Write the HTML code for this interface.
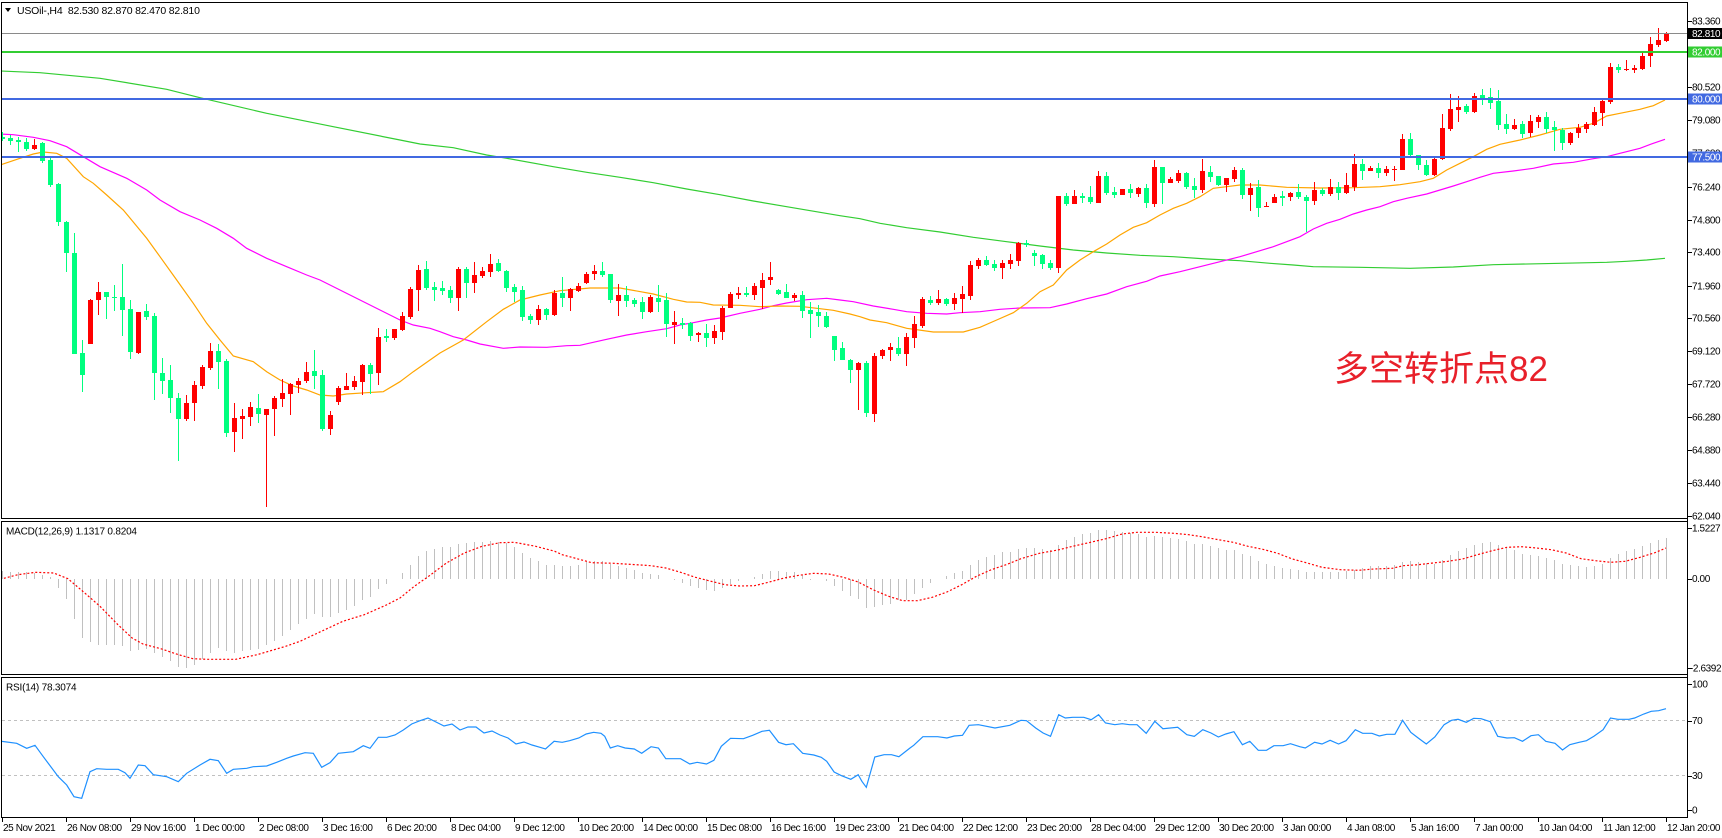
<!DOCTYPE html>
<html><head><meta charset="utf-8">
<style>
html,body{margin:0;padding:0;background:#fff;width:1722px;height:838px;overflow:hidden}
svg{display:block}
text{font-family:"Liberation Sans","Noto Sans CJK SC",sans-serif;}
.ax{font-size:10px;letter-spacing:-0.4px;fill:#000}
</style></head><body>
<svg id="c" width="1722" height="838" viewBox="0 0 1722 838" xmlns="http://www.w3.org/2000/svg">
<rect x="0" y="0" width="1722" height="838" fill="#fff"/>
<defs>
<clipPath id="cm"><rect x="2" y="3" width="1685" height="515"/></clipPath>
<clipPath id="cmacd"><rect x="2" y="522" width="1685" height="152"/></clipPath>
<clipPath id="crsi"><rect x="2" y="678" width="1685" height="139"/></clipPath>
</defs>
<g id="ma" clip-path="url(#cm)"></g>
<g id="cd" clip-path="url(#cm)" shape-rendering="crispEdges"></g>
<g shape-rendering="crispEdges">
<rect x="2" y="33" width="1685" height="1" fill="#8a8a8a"/>
<rect x="2" y="51" width="1685" height="2" fill="#32cd32"/>
<rect x="2" y="98" width="1685" height="2" fill="#4169e1"/>
<rect x="2" y="156" width="1685" height="2" fill="#4169e1"/>
</g>
<g id="macd" clip-path="url(#cmacd)"></g>
<g id="rsi" clip-path="url(#crsi)"></g>
<g stroke="#000" fill="none" shape-rendering="crispEdges">
<rect x="1.5" y="2.5" width="1686" height="516"/>
<rect x="1.5" y="521.5" width="1686" height="153"/>
<rect x="1.5" y="677.5" width="1686" height="140"/>
<line x1="1687.5" y1="2" x2="1687.5" y2="818"/>
</g>
<g id="axis"></g>
<polygon points="5,8 11,8 8,12" fill="#000"/>
<text x="17" y="14" style="font-size:10.5px;letter-spacing:-0.2px" fill="#000">USOil-,H4&#160;&#160;82.530 82.870 82.470 82.810</text>
<text x="6" y="534.5" class="ax" style="letter-spacing:-0.2px">MACD(12,26,9) 1.1317 0.8204</text>
<text x="6" y="690.5" class="ax" style="letter-spacing:-0.2px">RSI(14) 78.3074</text>
<text x="1334" y="381" style="font-size:35px" fill="#e8202a">多空转折点82</text>
</svg>
<script>
(function(){
var NS='http://www.w3.org/2000/svg';
function el(tag,a,p){var e=document.createElementNS(NS,tag);for(var k in a)e.setAttribute(k,a[k]);p.appendChild(e);return e;}
var gMA=document.getElementById('ma'),gCD=document.getElementById('cd'),gM=document.getElementById('macd'),gR=document.getElementById('rsi'),gA=document.getElementById('axis');
function pts(a){var s=[];for(var i=0;i<a.length;i+=2)s.push(a[i]+','+a[i+1]);return s.join(' ');}

// Moving averages
var green=[0,71,40,72.7,100,78.3,166.7,89.3,200,97.7,266.7,113.3,333.3,126.7,400,140,420,144,453.3,147.7,486.7,155,506.7,158.3,553.3,166.7,586.7,172.3,620,177.3,653.3,182.7,686.7,189,720,194.7,753.3,201,786.7,206.7,820,212.3,840,215.7,860,218.7,880,223.3,906.7,227.7,940,232,973.3,237.3,1006.7,241.7,1040,246,1073.3,250,1106.7,253,1140,255.3,1173.3,256.7,1206.7,259,1240,260.7,1270,263.3,1293.3,265,1313.3,266.7,1360,267.3,1410,268.3,1453.3,267,1493.3,264.7,1560,263.3,1606.7,262.3,1626.7,261.3,1646.7,260,1665,258.3];
var mag=[0,134,13.3,134.7,33.3,137.3,50,140.7,66.7,146.7,83.3,156.7,100,166.7,126.7,178.3,146.7,190,160,200,180,211.7,200,220,216.7,228.3,233.3,238.3,246.7,248.3,266.7,258.3,286.7,266.7,306.7,275,320,280,340,290,360,300,380,310,400,320,413.3,325,430,328.3,440,331.7,453.3,336.7,466.7,340,480,344,503.3,348.3,520,347,546.7,347.3,566.7,345.7,580,345.3,593.3,342.3,606.7,339.3,626.7,335,646.7,331.7,666.7,328.7,680,325,693.3,322.7,706.7,320,720,318,740,313.3,760,309.3,773.3,305.7,786.7,303,806.7,299.7,826.7,298.3,840,300,853.3,301.7,873.3,306,893.3,309.3,906.7,311.7,926.7,313.3,946.7,314,960,312.7,980,311.7,1000,309.3,1020,308,1050,307.7,1066.7,304,1086.7,298.7,1106.7,294,1126.7,286.7,1146.7,281.3,1160,276,1180,271.7,1200,266.7,1220,261.7,1240,256.7,1256.7,251.7,1273.3,246.7,1286.7,241.7,1300,236.7,1313.3,229,1326.7,223.3,1340,219.3,1353.3,214,1366.7,210,1380,206.7,1393.3,201.7,1406.7,198.3,1426.7,194,1440,190,1453.3,186,1466.7,181.7,1480,177.3,1493.3,173.3,1513.3,171,1533.3,168.3,1553.3,164,1573.3,162.3,1593.3,158.7,1606.7,156.7,1620,153.3,1640,148.3,1653.3,143.3,1665,139.3];
var ora=[0,165,20,158.3,33.3,154,43.3,152,56.7,153.3,66.7,158.3,83.3,176.7,93.3,183.3,106.7,195,123.3,210,146.7,238.3,160,256.7,176.7,280,193.3,303.3,206.7,323.3,220,340,233.3,356,253.3,361.7,266.7,371.7,280,380,293.3,386,306.7,390,320,395,333.3,396,346.7,394,366.7,392.7,383.3,391.7,400,381.7,413.3,371.7,430,360,440,353,463.3,340,486.7,321.7,503.3,309.3,520,300,540,295,560,290.7,590,288,620,288,653.3,294,673.3,299.3,686.7,302,700,302.3,713.3,305,740,305.3,760,306.7,780,306,800,306.3,820,308.7,833.3,310.3,850,314,860,316.7,870,320,886.7,322.7,906.7,328.3,933.3,332,963.3,332,980,327.3,996.7,320,1013.3,312.7,1026.7,303.3,1040,291.7,1053.3,285,1066.7,270,1080,260,1093.3,251.7,1106.7,244,1120,235,1133.3,227.3,1146.7,222.7,1160,215,1173.3,208.3,1186.7,203.3,1200,196.7,1213.3,188.3,1226.7,186.7,1240,185,1260,185,1286.7,187.3,1320,188,1353.3,187.7,1380,186.7,1400,184.7,1420,181.7,1433.3,178.3,1446.7,170,1460,163.3,1473.3,156.7,1486.7,149.3,1500,144.3,1520,140,1540,135,1560,129.3,1580,127.3,1593.3,123.3,1606.7,116,1620,113.3,1640,109.3,1653.3,105.7,1665,100];
el('polyline',{points:pts(green),fill:'none',stroke:'#32cd32','stroke-width':1.2},gMA);
el('polyline',{points:pts(mag),fill:'none',stroke:'#ff00ff','stroke-width':1.2},gMA);
el('polyline',{points:pts(ora),fill:'none',stroke:'#ffa500','stroke-width':1.2},gMA);

// Candles: [color, bodyTop, bodyBottom, wickTop, wickBottom] in zoom units
var A=[['g',80,88,66,92],['g',84,92,76,104],['g',90,97,80,125],['g',96,116,84,122],['r',104,116,88,120],['g',98,152,96,160],['g',150,224,145,232],['g',222,335,218,347],['g',336,428,333,485],['g',430,731,370,731],['g',730,794,690,845],['r',570,701,568,702],['r',546,569,516,614],['g',546,560,546,626],['g',561,563,526,602],['g',561,599,462,677],['g',598,725,570,746],['r',606,729,606,733],['g',604,620,582,630],['g',618,788,610,869],['g',790,812,744,851],['g',810,863,766,909],['g',864,926,850,1052],['r',879,926,855,934],['r',825,878,813,932],['r',771,827,765,836],['r',723,773,698,779],['g',723,755,702,836],['g',752,968,746,982],['r',924,965,878,1025],['r',918,926,897,986],['r',891,920,876,949],['g',894,911,852,939],['r',897,914,897,1190],['r',864,897,858,977],['r',849,866,808,890],['r',822,851,818,914],['r',813,824,804,848],['r',786,812,756,818],['g',783,798,720,837],['g',795,957,780,962],['r',914,957,903,974],['r',833,875,827,884],['r',828,839,789,839],['r',813,831,798,839],['r',765,815,762,854],['g',765,791,759,851],['r',681,788,654,824],['g',678,683,657,695],['r',657,684,657,690],['r',618,660,606,662],['r',537,621,531,626],['r',480,539,465,602],['g',477,533,453,540]];
var B=[['g',441,449,426,482],['g',444,452,423,464],['g',450,473,438,489],['r',387,473,381,512],['g',387,428,381,473],['r',405,428,366,458],['r',393,407,381,413],['r',372,395,342,410],['g',369,392,357,395],['g',393,443,390,455],['g',441,455,432,485],['g',450,530,437,542],['g',528,539,521,551],['r',507,539,495,554],['g',507,524,503,539],['r',458,524,450,527],['g',458,473,410,500],['r',447,473,443,512],['r',437,452,429,455],['r',402,428,396,431],['r',393,401,375,419],['g',393,405,366,410],['g',402,479,402,488],['r',465,482,432,527],['g',465,482,438,500],['g',479,491,473,500],['g',485,515,470,536],['r',470,515,464,518],['g',473,485,435,515],['g',479,551,459,590],['r',546,554,513,611],['g',549,554,533,566],['g',549,587,545,602],['r',578,584,575,605],['g',578,593,551,620],['r',573,593,554,611],['r',503,575,497,599],['r',461,503,455,503],['r',458,465,440,476],['g',458,464,441,470],['r',437,464,429,479],['r',419,443,399,506],['r',410,419,365,434],['g',449,461,446,464],['g',455,473,432,473],['r',464,473,458,482],['g',464,512,452,533],['g',509,521,485,593],['g',515,527,494,560],['g',527,561,515,564],['g',587,629,587,662]];
var C=[['g',684,719,666,719],['g',719,749,716,788],['r',729,749,726,869],['g',729,878,723,890],['r',708,881,699,905],['r',690,707,687,716],['r',681,690,669,722],['g',684,701,651,707],['r',651,701,640,737],['r',612,653,588,683],['r',537,617,530,623],['g',540,549,528,554],['r',537,549,510,554],['g',537,551,534,557],['r',534,551,519,570],['r',522,537,498,580],['r',435,527,423,539],['r',420,437,414,446],['g',420,435,408,438],['g',432,443,420,452],['r',429,443,420,476],['r',420,431,402,446],['r',368,422,365,437],['g',369,376,360,381],['g',399,407,390,437],['g',405,431,402,446],['g',429,443,420,449],['r',228,443,228,458],['g',228,251,219,257],['r',228,251,210,251],['g',228,234,219,248],['g',231,245,198,251],['r',168,248,153,248],['g',168,218,156,224],['g',216,224,201,233],['r',207,224,207,224],['g',207,218,192,233],['r',204,221,201,230],['g',204,248,192,263],['r',141,251,120,260],['g',141,188,141,251],['r',177,188,171,188],['r',159,182,150,188],['g',159,201,156,207],['g',198,209,174,233],['r',153,209,117,218],['g',156,170,138,185],['g',168,195,168,198],['r',174,195,174,215],['r',150,177,141,185],['g',150,224,144,236],['r',204,224,189,272],['g',201,263,180,290]];
var D=[['r',589,591,576,592],['r',561,578,552,578],['g',558,563,543,587],['r',549,560,546,572],['g',546,560,522,567],['g',561,573,555,665],['r',540,572,516,584],['g',540,551,534,557],['r',531,551,507,557],['g',531,548,516,569],['r',525,548,489,551],['r',462,531,432,542],['g',462,482,447,509],['r',474,482,468,482],['g',474,488,459,503],['r',477,488,468,497],['r',477,479,468,512],['r',387,479,372,479],['g',387,434,369,440],['g',435,464,435,479],['g',465,494,449,497],['r',447,494,444,497],['r',354,446,312,449],['r',297,356,252,362],['r',291,299,258,335],['g',288,305,282,311],['r',258,305,249,308],['g',255,264,237,284],['g',261,278,234,296],['g',273,345,240,359],['g',342,356,312,371],['r',345,356,327,359],['g',342,371,333,383],['r',333,368,315,380],['r',321,335,315,353],['g',321,356,306,368],['g',351,359,333,422],['g',359,398,354,419],['r',369,398,366,404],['r',354,368,342,383],['r',342,356,336,368],['r',306,344,291,347],['r',273,308,263,347],['r',171,275,159,281],['g',171,179,162,188],['r',177,180,150,183],['r',174,180,165,188],['r',138,177,126,180],['r',102,137,81,170],['r',90,104,54,110],['r',69,92,66,95]];
var sets=[[A,110,0],[B,140,54],[C,120,105],[D,10,158]];
sets.forEach(function(s){
  var arr=s[0],off=s[1],start=s[2];
  arr.forEach(function(c,k){
    var i=start+k,cx=2+8*i;
    var col=c[0]=='r'?'#ff0000':'#00ff7f';
    var bt=off+c[1]/3,bb=off+c[2]/3,wt=off+Math.min(c[3],c[1])/3,wb=off+Math.max(c[4],c[2])/3;
    var y1=Math.round(wt),y2=Math.round(wb);
    el('rect',{x:cx,y:y1,width:1,height:Math.max(1,y2-y1),fill:col},gCD);
    var b1=Math.round(bt),b2=Math.round(bb);
    el('rect',{x:cx-2,y:b1,width:5,height:Math.max(1,b2-b1),fill:col},gCD);
  });
});

// MACD histogram
var h1=[160,162,162,162,165,172,178,210,243,302,360,372,380,380,380,383,398,396,392,405,418,428,447,450,440,422,405,390,398,405,400,395,392,382,368,353,335,318,303,288,297,297,285,276,265,245,238,213,198,183,165,141,113,100,93,87,87,78,75,72,72,70,72,75,87,105,120,130,141,141];
var h2=[144,144,141,132,130,130,137,144,150,156,165,168,170,182,186,195,204,210,215,218,210,198,189,182,176,168,158,160,162,162,170,185,182,188,204,218,233,243,270,266,260,258,246,245,228,210,195,182,174,165,158,140,126,117,110,103,101,93,90,90,93,96,80,65,57,48,45,36];
var h3=[36,40,43,46,47,57,54,57,60,63,70,78,78,84,90,96,96,108,115,129,138,144,150,153,156,162,162,162,162,162,160,156,150,144,144,144,141,132,129,132,135,138,126,111,99,90,81,75,72,81,90,96,108,111,114,120,126,138,141,144,147,144,138,120,108,99,93,84,75,66,60];
var hist=h1.concat(h2).concat(h3);
var zero=578.5;
hist.forEach(function(v,i){
  var y=518+v/3;var cx=2+8*i;
  if(Math.abs(y-zero)<0.8)return;
  var a=Math.min(y,zero),b=Math.max(y,zero);
  el('rect',{x:cx,y:Math.round(a),width:1,height:Math.max(1,Math.round(b)-Math.round(a)),fill:'#c0c0c0','shape-rendering':'crispEdges'},gM);
});
var sig=[0,579.3,17.9,574.7,35.7,572.3,53.6,573,67.9,578.7,82.1,590.7,100,606.3,117.9,624.7,132.1,638,142.9,644,160.7,648.7,178.6,654.7,192.9,658.7,207.1,659.3,235.7,659.3,257.1,654.7,285.7,646.3,300,641.3,321.4,631.3,342.9,621.3,364.3,614.7,385.7,605.3,400,598,414.3,586.3,428.6,576.3,446.4,563,464.3,553,482.1,546.3,500,542.7,514.3,542.3,535.7,546.3,554.8,551.3,562.2,554.7,577,558.7,591.8,562.7,614,563.3,636.2,564.7,651,565.7,665.8,568,680.6,572.3,695.4,577.3,713.9,582,725,584.7,739.8,586,754.6,585.7,769.4,582,784.2,578,799,575.3,813.8,573.3,828.6,574,843.4,577.3,858.2,582,873,589.7,887.8,596,902.6,600.7,917.4,600.7,932.2,597.3,947,592,961.8,584.7,976.5,576.3,991.3,569.7,1006.1,564.7,1020.9,558.7,1039.4,553.3,1057.9,550,1072.7,546.3,1087.5,543,1106,538.7,1122.2,534,1137,532.3,1155.5,532.3,1174,533.3,1188.8,534.7,1203.6,537,1218.4,539.7,1233.2,542.3,1248,546.3,1262.8,549.3,1277.6,553.3,1292.4,559,1307.2,563,1322,567.3,1340.5,569.7,1359,570.3,1373.8,569,1392.3,568.3,1403.4,565.7,1418.2,564.7,1433,563,1447.8,561.3,1462.6,559,1477.4,554.7,1492.2,550.7,1507,547.3,1521.8,546.7,1536.5,548,1551.3,549.7,1566.1,553,1581,558.7,1595.7,560.7,1610.5,562.3,1625.3,561.3,1640.1,557.3,1654.9,552.7,1666,548];
el('polyline',{points:pts(sig),fill:'none',stroke:'#ff0000','stroke-width':1.2,'stroke-dasharray':'2,2'},gM);

// RSI
el('line',{x1:2,y1:720.5,x2:1687,y2:720.5,stroke:'#c0c0c0','stroke-width':1,'stroke-dasharray':'3,3'},gR);
el('line',{x1:2,y1:775.5,x2:1687,y2:775.5,stroke:'#c0c0c0','stroke-width':1,'stroke-dasharray':'3,3'},gR);
var rsi=[1.7,741.3,16.7,743.3,26.7,748.3,35,745.3,43.3,756.7,58.3,776.7,66.7,785,74,796.7,81.7,798.3,90,771.7,96.7,768.7,106.7,769.3,118.3,769.3,125,772.7,130,778.3,138.3,765,145,765.7,153.3,774.7,166.7,776.7,178.3,781.7,186.7,773.3,200,765,210,759.3,218.3,760.7,226.7,773.3,233.3,769.3,246.7,768.3,253.3,766.7,266.7,766,276.7,762.3,286.7,758.3,293.3,756,305,752.7,313.3,753.3,321.7,767.3,330,762.7,338.3,753.3,353.3,751.7,363.3,745.7,370,748.3,378.3,737.3,386.7,737.3,395,735,403.3,730,411.7,724,420,720.7,428,718,436,722,444,726,452,724,460,730,468,727,476,727,484,733,492,731,500,735,508,738,516,744,524,742,532,745,540,747.3,545.5,749,554.1,741.3,562.2,742.3,569.6,740.7,578.8,738,586.2,734,593.6,732.3,601,733.3,604.7,736.3,610.3,748,617.7,745.7,625.1,748,634.3,749,641.7,753.3,651,746.7,658.4,748,665.8,758.7,680.6,758.7,689.8,764,697.2,762.3,706.5,764,713.9,760.3,721.3,746.3,730.5,738.3,743.5,738.7,752.7,735.3,762,731.3,769.4,730.3,778.6,742.3,786,744.7,793.4,743.7,802.7,753.3,813.8,755,821.2,757.3,826.7,761.3,834.1,772,841.5,775.7,850.8,779.3,858.2,774.7,861.9,781.3,866.3,787.3,874.8,757,884.1,754.7,891.5,754.7,898.9,756.7,910,748,913.7,745.3,922.9,736.7,937.7,736.7,946.9,738,954.3,736,962.5,735.3,969.1,725.3,978.4,724.7,995,728,1009.8,725.3,1020.9,720.3,1026.5,720.7,1035.7,728,1043.1,733,1050.5,736.3,1058.7,714.7,1065.3,718,1072.7,717.3,1083.8,717.3,1091.2,719.7,1098.6,714.7,1105.5,723,1114.8,724.7,1122.2,723.7,1129.6,724.7,1137,724.7,1146.2,733.3,1154.8,721.3,1162.9,728.7,1177.7,727.3,1186.9,734.7,1194.3,736.3,1202.8,729.7,1211,733,1218.4,737,1225.8,734,1233.9,731.7,1242.4,744.7,1249.8,741.3,1258.3,750.3,1266.5,750.3,1273.9,745.7,1283.1,745.7,1290.5,743.7,1299.8,746.7,1305.3,748,1314.6,742.3,1322,744,1330.1,740.3,1338.6,744,1346,740.7,1355.3,729.7,1362.7,733.3,1371.9,733.3,1379.3,736,1386.7,734.3,1394.9,734.3,1402.6,720.3,1410.8,732.3,1418.2,738,1426.3,744,1434.8,737,1444.1,724.7,1451.5,720.3,1458.1,719.3,1466.3,722.3,1473.7,718.3,1481.1,718.7,1490.3,721.7,1497.7,736.3,1507,738,1514.4,737.7,1522.5,741.3,1531,735.7,1538.4,734.7,1545.8,741.3,1555,743.3,1562.5,750,1569.8,744.7,1579.1,742.3,1586.5,740.7,1593.9,736.3,1603.1,729.7,1610.5,718,1617.9,719.3,1629,719.3,1634.6,718,1643.8,714,1651.2,711.3,1658.6,710.7,1666,708.7];
el('polyline',{points:pts(rsi),fill:'none',stroke:'#1e90ff','stroke-width':1.2},gR);

// Axis labels
function lab(t,y,x){el('rect',{x:1688,y:Math.round(y),width:4,height:1,fill:'#000','shape-rendering':'crispEdges'},gA);var e=el('text',{x:x||1692,y:y+3.5,'class':'ax'},gA);e.textContent=t;}
var ml=[['83.360',21],['81.960',54],['80.520',87],['79.080',120],['77.680',153],['76.240',187],['74.800',220],['73.400',252],['71.960',286],['70.560',318],['69.120',351],['67.720',384],['66.280',417],['64.880',450],['63.440',483],['62.040',516]];
ml.forEach(function(a){lab(a[0],a[1]);});
lab('1.5227',528);lab('0.00',578.5);lab('-2.6392',668,1690);
lab('100',684);lab('70',720.5);lab('30',775.5);lab('0',810);
function box(t,y,col){el('rect',{x:1688,y:y-5.5,width:34,height:11,fill:col},gA);var e=el('text',{x:1692,y:y+3.5,'class':'ax',style:'fill:#fff'},gA);e.textContent=t;}
box('82.810',33.5,'#000000');box('82.000',52,'#32cd32');box('80.000',99,'#4169e1');box('77.500',157,'#4169e1');
var dl=["25 Nov 2021","26 Nov 08:00","29 Nov 16:00","1 Dec 00:00","2 Dec 08:00","3 Dec 16:00","6 Dec 20:00","8 Dec 04:00","9 Dec 12:00","10 Dec 20:00","14 Dec 00:00","15 Dec 08:00","16 Dec 16:00","19 Dec 23:00","21 Dec 04:00","22 Dec 12:00","23 Dec 20:00","28 Dec 04:00","29 Dec 12:00","30 Dec 20:00","3 Jan 00:00","4 Jan 08:00","5 Jan 16:00","7 Jan 00:00","10 Jan 04:00","11 Jan 12:00","12 Jan 20:00"];
dl.forEach(function(t,k){var x=2+64*k;el('rect',{x:x,y:818,width:1,height:4,fill:'#000','shape-rendering':'crispEdges'},gA);var e=el('text',{x:x+1,y:831,'class':'ax'},gA);e.textContent=t;});
})();
</script>
</body></html>
